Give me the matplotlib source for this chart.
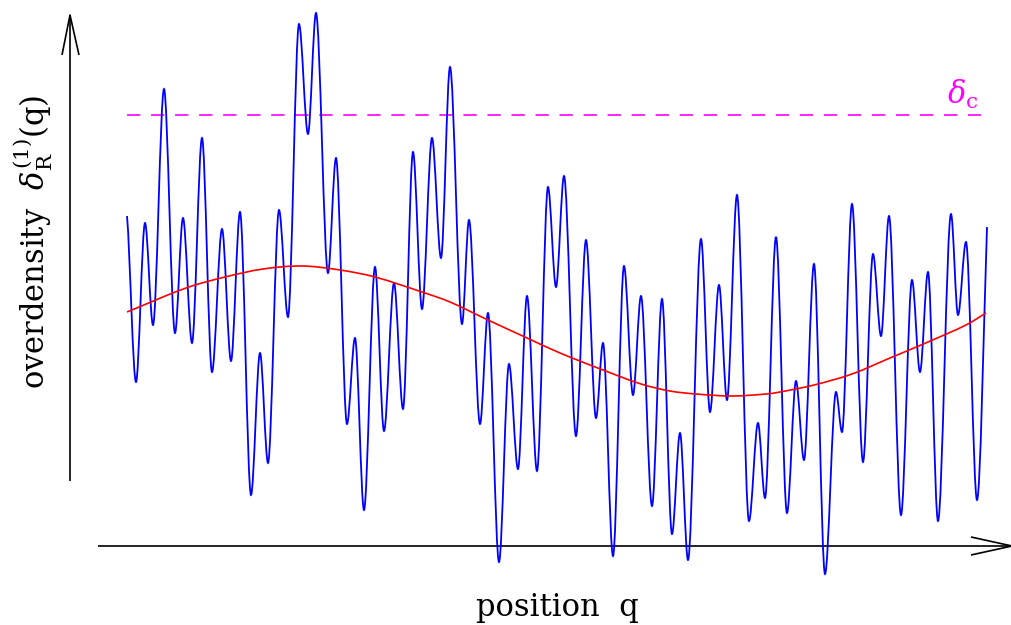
import matplotlib
matplotlib.use("Agg")
import matplotlib.pyplot as plt
from matplotlib.path import Path
from matplotlib.patches import PathPatch

plt.rcParams["mathtext.fontset"] = "dejavuserif"
plt.rcParams["lines.scale_dashes"] = False

# ---- data (position q, overdensity in arbitrary units) ----
# smoothed field: successive extrema (peaks / troughs)
blue_q = [1, 10, 19, 27, 38, 49, 57, 66, 76, 86, 96, 105, 114, 125, 134, 142,
          153, 162, 173, 182, 190, 202, 210, 221, 229, 238, 249, 258, 268, 277,
          287, 296, 306, 315, 324, 336, 343, 354, 362, 373, 383, 392, 401, 411,
          422, 430, 438, 450, 460, 470, 477, 487, 498, 507, 515, 526, 536, 546,
          554, 562, 575, 584, 593, 601, 611, 623, 632, 639, 650, 661, 670, 678,
          688, 699, 710, 716, 726, 737, 747, 755, 763, 775, 786, 794, 802, 812,
          825, 832, 840, 851, 861]
blue_d = [114, -52, 107, 5, 241, -3, 112, -13, 192, -42, 101, -31, 118, -165,
          -23, -133, 120, 13, 306, 196, 317, 57, 172, -94, -8, -180, 63, -101,
          47, -79, 178, 21, 192, 72, 263, 6, 110, -94, 17, -232, -34, -139, 34,
          -141, 143, 43, 154, -106, 90, -88, -13, -226, 64, -65, 34, -176, 31,
          -204, -103, -230, 91, -82, 45, -70, 135, -191, -93, -168, 93, -183,
          -51, -130, 66, -244, -62, -102, 126, -132, 76, -6, 114, -185, 50,
          -42, 58, -191, 116, 15, 88, -170, 103]

# large-scale (long wavelength) component
red_q = [1, 60, 99, 137, 176, 214, 249, 296, 324, 362, 401, 434, 477, 515,
         544, 570, 606, 640, 654, 688, 726, 764, 802, 840, 860]
red_d = [18, 42, 53, 61, 64, 60, 53, 38, 28, 10, -8, -23, -40, -54,
         -61, -64, -66, -64, -62, -55, -44, -28, -12, 5, 17]

delta_c = 215
dash_q = [1, 855]

xlabel = "position  q"
ylabel = r"overdensity  $\delta^{(1)}_{\rm R}$(q)"
dc_label = r"$\delta_{\rm c}$"

# ---- figure ----
fig = plt.figure(figsize=(10.12, 6.25), dpi=100)
ax = fig.add_axes([0, 0, 1, 1])
ax.set_xlim(-126, 886)
ax.set_ylim(-295, 330)
ax.axis("off")


def hermite_path(q, d, slopes):
    verts = [(q[0], d[0])]
    codes = [Path.MOVETO]
    for i in range(len(q) - 1):
        dx = q[i + 1] - q[i]
        verts += [(q[i] + dx / 3, d[i] + slopes[i] * dx / 3),
                  (q[i + 1] - dx / 3, d[i + 1] - slopes[i + 1] * dx / 3),
                  (q[i + 1], d[i + 1])]
        codes += [Path.CURVE4] * 3
    return Path(verts, codes)


# blue: horizontal tangents at extrema, chord slope at the ends
bs = [0.0] * len(blue_q)
bs[0] = 0.6 * (blue_d[1] - blue_d[0]) / (blue_q[1] - blue_q[0])
bs[-1] = 1.1 * (blue_d[-1] - blue_d[-2]) / (blue_q[-1] - blue_q[-2])
ax.add_patch(PathPatch(hermite_path(blue_q, blue_d, bs), fill=False,
                       edgecolor="#0000ff", lw=1.3, zorder=3))

# red: cubic Hermite with finite-difference slopes
rs = []
n = len(red_q)
for i in range(n):
    a = max(i - 1, 0)
    b = min(i + 1, n - 1)
    rs.append((red_d[b] - red_d[a]) / (red_q[b] - red_q[a]))
ax.add_patch(PathPatch(hermite_path(red_q, red_d, rs), fill=False,
                       edgecolor="#ff0000", lw=1.2, zorder=4))

# threshold
ax.plot(dash_q, [delta_c, delta_c], color="#ff00ff", lw=1.2,
        dashes=(9.6, 7.7), zorder=2)
ax.text(821, 226, dc_label, color="#ff00ff", fontsize=22,
        ha="left", va="baseline")

# axes arrows
kw = dict(color="black", lw=1.2, solid_capstyle="butt")
ax.plot([-56, -56], [-151, 315], **kw)
ax.plot([-64, -56, -47], [275, 315, 275], **kw)
ax.plot([-28, 886], [-216, -216], **kw)
ax.plot([845, 886, 845], [-207, -216, -225], **kw)

ax.text(431, -286, xlabel, fontsize=22, family="DejaVu Serif",
        ha="center", va="baseline")
ax.text(-93, 88, ylabel, fontsize=22, family="DejaVu Serif",
        rotation=90, ha="center", va="center")

fig.savefig("out.png", dpi=100)
